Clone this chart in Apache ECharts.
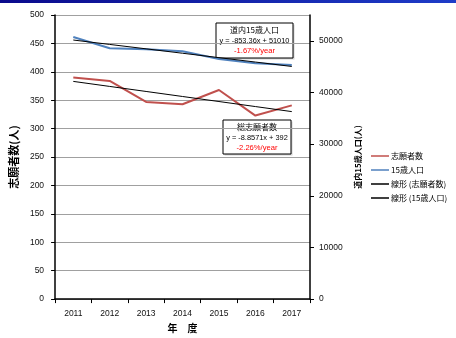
<!DOCTYPE html>
<html>
<head>
<meta charset="utf-8">
<script src="https://cdn.jsdelivr.net/npm/echarts@6/dist/echarts.min.js"></script>
<style>
  html, body { margin: 0; padding: 0; background: #fff; }
  #chart { width: 456px; height: 338px; }
</style>
</head>
<body>
<div id="chart"></div>
<script>
// Fiscal years on the x axis
const years = ['2011', '2012', '2013', '2014', '2015', '2016', '2017'];
// Applicants (left axis, persons)
const applicants = [390, 384, 347, 343, 368, 323, 341];
// 15-year-old population in Hokkaido (right axis, persons)
const population15 = [50750, 48550, 48380, 47980, 46500, 45680, 45330];

// Linear trend coefficients, y = slope * x + intercept with x = 1..7
const applicantsTrend = { slope: -8.8571, intercept: 392, rate: '-2.26%/year' };
const populationTrend = { slope: -853.36, intercept: 51010, rate: '-1.67%/year' };

// Left and right axis tick labels
const leftTicks = [0, 50, 100, 150, 200, 250, 300, 350, 400, 450, 500];
const rightTicks = [0, 10000, 20000, 30000, 40000, 50000];

function trendValues(t) {
  return years.map((_, i) => +(t.slope * (i + 1) + t.intercept).toFixed(2));
}

const RED = '#C0504D';
const BLUE = '#4F81BD';
const JP = '"Noto Sans CJK JP", "Noto Sans", sans-serif';
const NUM = '"Liberation Sans", "DejaVu Sans", sans-serif';

const chart = echarts.init(document.getElementById('chart'), null, { renderer: 'canvas' });

function eqBox(x, y, w, h, title, slope, intercept, rate) {
  const sign = slope < 0 ? '-' : '';
  const eq = 'y = ' + sign + Math.abs(slope) + 'x + ' + intercept;
  const cx = x + w / 2;
  return {
    type: 'group',
    children: [
      { type: 'rect', shape: { x: x + 1.5, y: y + 1.5, width: w, height: h },
        style: { fill: 'rgba(0,0,0,0.18)' } },
      { type: 'rect', shape: { x: x, y: y, width: w, height: h },
        style: { fill: '#fff', stroke: '#000', lineWidth: 1 } },
      { type: 'text', x: cx, y: y + 7, style: { text: title, fill: '#000',
        font: '8px ' + JP, textAlign: 'center', textVerticalAlign: 'middle' } },
      { type: 'text', x: cx, y: y + 17.5, style: { text: eq, fill: '#000',
        font: '7.4px ' + NUM, textAlign: 'center', textVerticalAlign: 'middle' } },
      { type: 'text', x: cx, y: y + 27.5, style: { text: rate, fill: '#FF0000',
        font: '7.6px ' + NUM, textAlign: 'center', textVerticalAlign: 'middle' } }
    ]
  };
}

const option = {
  animation: false,
  backgroundColor: '#fff',
  grid: { left: 51, right: 146, top: 15, bottom: 35, containLabel: false },
  legend: {
    orient: 'vertical',
    left: 366,
    top: 146,
    itemWidth: 18,
    itemHeight: 1.5,
    itemGap: 4,
    icon: 'rect',
    textStyle: { fontFamily: JP, fontSize: 8, color: '#000', lineHeight: 10, padding: [0, 0, 0, -3] },
    data: ['志願者数', '15歳人口', '線形 (志願者数)', '線形 (15歳人口)']
  },
  xAxis: {
    type: 'category',
    data: years,
    boundaryGap: true,
    name: '年　度',
    nameLocation: 'middle',
    nameGap: 23,
    nameTextStyle: { fontFamily: JP, fontSize: 10, fontWeight: 'bold', color: '#000' },
    axisLine: { lineStyle: { color: '#000', width: 1.5 } },
    axisTick: { show: true, length: 4, alignWithLabel: false, lineStyle: { color: '#000' } },
    axisLabel: { fontFamily: NUM, fontSize: 8.5, color: '#111', margin: 10 },
    splitLine: { show: false }
  },
  yAxis: [
    {
      type: 'value',
      min: leftTicks[0],
      max: leftTicks[leftTicks.length - 1],
      interval: 50,
      position: 'left',
      name: '志願者数(人)',
      nameLocation: 'middle',
      nameGap: 33,
      nameRotate: 90,
      nameTextStyle: { fontFamily: JP, fontSize: 11, fontWeight: 'bold', color: '#000' },
      axisLine: { show: true, lineStyle: { color: '#000', width: 1.5 } },
      axisTick: { show: true, length: 4, lineStyle: { color: '#000' } },
      axisLabel: { fontFamily: NUM, fontSize: 8.5, color: '#111', margin: 11 },
      splitLine: { show: true, lineStyle: { color: '#A0A0A0', width: 1 } }
    },
    {
      type: 'value',
      min: rightTicks[0],
      max: 55000,
      interval: 10000,
      position: 'right',
      name: '道内15歳人口(人)',
      nameLocation: 'middle',
      nameGap: 38,
      nameRotate: 90,
      nameTextStyle: { fontFamily: JP, fontSize: 8, fontWeight: 'bold', color: '#000' },
      axisLine: { show: true, lineStyle: { color: '#000', width: 1.5 } },
      axisTick: { show: true, length: 4, lineStyle: { color: '#000' } },
      axisLabel: { fontFamily: NUM, fontSize: 8.5, color: '#111', margin: 9, showMaxLabel: false,
        formatter: v => String(v) },
      splitLine: { show: false }
    }
  ],
  series: [
    {
      name: '志願者数', type: 'line', yAxisIndex: 0, data: applicants,
      showSymbol: false, symbol: 'none', color: RED,
      lineStyle: { color: RED, width: 2 }, z: 3
    },
    {
      name: '15歳人口', type: 'line', yAxisIndex: 1, data: population15,
      showSymbol: false, symbol: 'none', color: BLUE,
      lineStyle: { color: BLUE, width: 2 }, z: 3
    },
    {
      name: '線形 (志願者数)', type: 'line', yAxisIndex: 0, data: trendValues(applicantsTrend),
      showSymbol: false, symbol: 'none', color: '#000',
      lineStyle: { color: '#000', width: 1 }, z: 4
    },
    {
      name: '線形 (15歳人口)', type: 'line', yAxisIndex: 1, data: trendValues(populationTrend),
      showSymbol: false, symbol: 'none', color: '#000',
      lineStyle: { color: '#000', width: 1 }, z: 4
    }
  ],
  graphic: [
    {
      type: 'rect', shape: { x: 0, y: 0, width: 456, height: 3 },
      style: { fill: new echarts.graphic.LinearGradient(0, 0, 1, 0, [
        { offset: 0, color: '#0A0A8C' }, { offset: 1, color: '#1E3CC8' }
      ]) }
    },
    eqBox(216, 23, 77, 35, '道内15歳人口', populationTrend.slope, populationTrend.intercept, populationTrend.rate),
    eqBox(223, 120, 68, 34, '総志願者数', applicantsTrend.slope, applicantsTrend.intercept, applicantsTrend.rate)
  ]
};

chart.setOption(option);
</script>
</body>
</html>
